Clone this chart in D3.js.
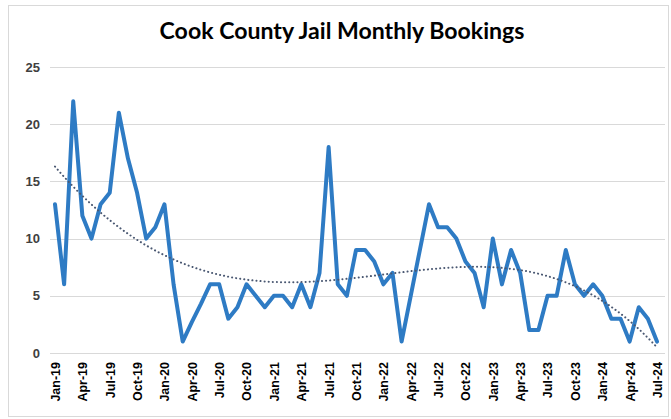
<!DOCTYPE html>
<html>
<head>
<meta charset="utf-8">
<script src="https://cdn.jsdelivr.net/npm/d3@7"></script>
<style>
  html, body { margin: 0; padding: 0; background: #ffffff; }
  svg { display: block; }
</style>
</head>
<body>
<svg id="chart" width="671" height="419"></svg>
<script>
const title = "Cook County Jail Monthly Bookings";

const months = [
  "Jan-19","Feb-19","Mar-19","Apr-19","May-19","Jun-19","Jul-19","Aug-19","Sep-19","Oct-19","Nov-19","Dec-19",
  "Jan-20","Feb-20","Mar-20","Apr-20","May-20","Jun-20","Jul-20","Aug-20","Sep-20","Oct-20","Nov-20","Dec-20",
  "Jan-21","Feb-21","Mar-21","Apr-21","May-21","Jun-21","Jul-21","Aug-21","Sep-21","Oct-21","Nov-21","Dec-21",
  "Jan-22","Feb-22","Mar-22","Apr-22","May-22","Jun-22","Jul-22","Aug-22","Sep-22","Oct-22","Nov-22","Dec-22",
  "Jan-23","Feb-23","Mar-23","Apr-23","May-23","Jun-23","Jul-23","Aug-23","Sep-23","Oct-23","Nov-23","Dec-23",
  "Jan-24","Feb-24","Mar-24","Apr-24","May-24","Jun-24","Jul-24"
];

const bookings = [
  13, 6, 22, 12, 10, 13, 14, 21, 17, 14, 10, 11,
  13, 6, 1, 2.7, 4.3, 6, 6, 3, 4, 6, 5, 4,
  5, 5, 4, 6, 4, 7, 18, 6, 5, 9, 9, 8,
  6, 7, 1, 5, 9, 13, 11, 11, 10, 8, 7, 4,
  10, 6, 9, 7, 2, 2, 5, 5, 9, 6, 5, 6,
  5, 3, 3, 1, 4, 3, 1
];

const tickLabels = [
  "Jan-19","Apr-19","Jul-19","Oct-19","Jan-20","Apr-20","Jul-20","Oct-20",
  "Jan-21","Apr-21","Jul-21","Oct-21","Jan-22","Apr-22","Jul-22","Oct-22",
  "Jan-23","Apr-23","Jul-23","Oct-23","Jan-24","Apr-24","Jul-24"
];

const yTicks = [0, 5, 10, 15, 20, 25];
const trendOrder = 4;

// ---- polynomial least-squares trendline (computed from the data) ----
function polyFit(ys, order) {
  const n = ys.length;
  const xs = ys.map((_, i) => (2 * i / (n - 1)) - 1);
  const m = order + 1;
  const A = Array.from({length: m}, () => new Array(m + 1).fill(0));
  for (let k = 0; k < n; k++) {
    const p = [];
    for (let j = 0; j < m; j++) p.push(Math.pow(xs[k], j));
    for (let r = 0; r < m; r++) {
      for (let c = 0; c < m; c++) A[r][c] += p[r] * p[c];
      A[r][m] += p[r] * ys[k];
    }
  }
  for (let col = 0; col < m; col++) {
    let piv = col;
    for (let r = col + 1; r < m; r++) if (Math.abs(A[r][col]) > Math.abs(A[piv][col])) piv = r;
    [A[col], A[piv]] = [A[piv], A[col]];
    for (let r = 0; r < m; r++) {
      if (r === col) continue;
      const f = A[r][col] / A[col][col];
      for (let c = col; c <= m; c++) A[r][c] -= f * A[col][c];
    }
  }
  const coef = A.map((row, i) => row[m] / row[i]);
  return t => {
    const x = (2 * t / (n - 1)) - 1;
    let s = 0;
    for (let j = 0; j < m; j++) s += coef[j] * Math.pow(x, j);
    return s;
  };
}

const svg = d3.select("#chart");
const W = 671, H = 419;

// chart frame
svg.append("rect")
  .attr("x", 8.5).attr("y", 5.5).attr("width", 660).attr("height", 411)
  .attr("fill", "#ffffff").attr("stroke", "#d9d9d9").attr("stroke-width", 1);

const x = d3.scalePoint().domain(months).range([55, 657]);
const y = d3.scaleLinear().domain([0, 25]).range([353, 67]);

// gridlines
svg.append("g")
  .selectAll("line")
  .data(yTicks)
  .join("line")
  .attr("x1", 50).attr("x2", 665)
  .attr("y1", d => Math.round(y(d)) + 0.5).attr("y2", d => Math.round(y(d)) + 0.5)
  .attr("stroke", "#d9d9d9").attr("stroke-width", 1);

// y axis labels
const yAxis = svg.append("g")
  .attr("transform", "translate(40,0)")
  .call(d3.axisLeft(y).tickValues(yTicks).tickSize(0).tickPadding(0));
yAxis.select(".domain").remove();
yAxis.selectAll("text")
  .attr("font-family", "'Liberation Sans', Arial, sans-serif")
  .attr("font-weight", "bold")
  .attr("font-size", 13)
  .attr("fill", "#404040");

// x axis
const xAxis = svg.append("g")
  .attr("transform", "translate(0,353)")
  .call(d3.axisBottom(x).tickValues(tickLabels).tickSize(0).tickPadding(0));
xAxis.select(".domain").remove();
xAxis.selectAll("text")
  .attr("font-family", "'Liberation Sans', Arial, sans-serif")
  .attr("font-weight", "bold")
  .attr("font-size", 12.5)
  .attr("fill", "#000000")
  .attr("text-anchor", "end")
  .attr("dy", "0.35em")
  .attr("transform", "translate(0,9) rotate(-90)")
  .attr("x", 0).attr("y", 0);

// data line
const line = d3.line()
  .x((d, i) => x(months[i]))
  .y(d => y(d));

svg.append("path")
  .datum(bookings)
  .attr("fill", "none")
  .attr("stroke", "#2E7BC4")
  .attr("stroke-width", 4)
  .attr("stroke-linejoin", "round")
  .attr("stroke-linecap", "round")
  .attr("d", line);

// trendline
const trend = polyFit(bookings, trendOrder);
const trendPts = d3.range(0, months.length - 1 + 0.001, 0.25);
const tLine = d3.line()
  .x(t => x(months[0]) + (x(months[1]) - x(months[0])) * t)
  .y(t => y(trend(t)))
  .curve(d3.curveMonotoneX);

svg.append("path")
  .datum(trendPts)
  .attr("fill", "none")
  .attr("stroke", "#4a5872")
  .attr("stroke-width", 2)
  .attr("stroke-dasharray", "0.1 4")
  .attr("stroke-linecap", "round")
  .attr("d", tLine);

// title
const t = svg.append("text")
  .attr("x", 342).attr("y", 39)
  .attr("text-anchor", "middle")
  .attr("font-family", "'Lato', 'Noto Sans', sans-serif")
  .attr("font-weight", "bold")
  .attr("font-size", 19)
  .attr("fill", "#000000")
  .text(title);
const tw = t.node().getComputedTextLength();
t.attr("font-size", 19 * 365 / tw);
</script>
</body>
</html>
